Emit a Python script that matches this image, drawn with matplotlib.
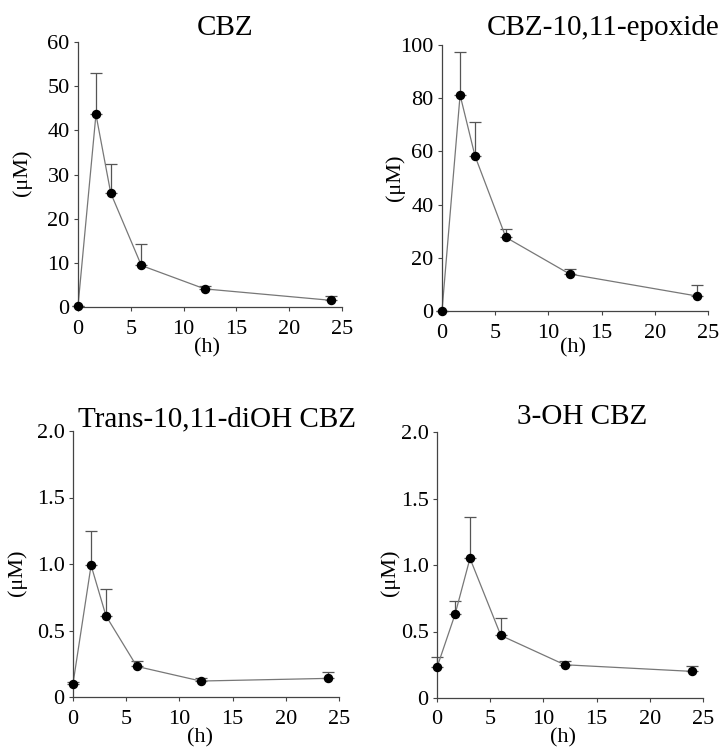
import matplotlib
matplotlib.use("Agg")
import matplotlib.pyplot as plt
import numpy as np

plt.rcParams['font.family'] = ['Liberation Serif', 'DejaVu Serif']

# Données (temps en heures, concentration en µM, erreur vers le haut)
temps = [0, 1.7, 3.1, 6, 12, 24]

cbz = [0.2, 43.6, 25.8, 9.4, 4.1, 1.5]
cbz_err = [0, 9.4, 6.5, 4.8, 0.6, 0.9]

epox = [0, 81.2, 58.3, 27.7, 13.9, 5.6]
epox_err = [0, 16.0, 12.9, 3.1, 1.8, 4.3]

diol = [0.10, 0.99, 0.61, 0.23, 0.12, 0.14]
diol_err = [0.01, 0.26, 0.20, 0.04, 0.02, 0.05]

oh3 = [0.23, 0.63, 1.05, 0.47, 0.25, 0.20]
oh3_err = [0.08, 0.10, 0.31, 0.13, 0.03, 0.04]

titres = ["CBZ", "CBZ-10,11-epoxide", "Trans-10,11-diOH CBZ", "3-OH CBZ"]

W, H = 720, 751
fig = plt.figure(figsize=(7.2, 7.51), dpi=100)

def ax_px(l, r, t, b):
    return fig.add_axes([l / W, 1 - b / H, (r - l) / W, (b - t) / H])

def panneau(ax, y, err, ymax, yticks, ylabels):
    ax.errorbar(temps, y, yerr=[np.zeros(len(err)), err], fmt="none",
                ecolor="#555555", elinewidth=0.9, capsize=4, capthick=0.9,
                clip_on=False)
    ax.plot(temps, y, color="#777777", lw=0.9, clip_on=False)
    ax.plot(temps, y, "o", color="black", ms=5.8, clip_on=False, zorder=5)
    ax.set_xlim(0, 25)
    ax.set_ylim(0, ymax)
    ax.set_xticks([0, 5, 10, 15, 20, 25])
    ax.set_yticks(yticks)
    ax.set_yticklabels(ylabels)
    for s in ["top", "right"]:
        ax.spines[s].set_visible(False)
    for s in ["left", "bottom"]:
        ax.spines[s].set_color("#444444")
        ax.spines[s].set_linewidth(0.9)
    ax.tick_params(direction="out", length=3, width=0.8, color="#444444",
                   labelsize=16, pad=3)
    ax.tick_params(axis="x", pad=6)

ax1 = ax_px(78, 342, 42, 307)
panneau(ax1, cbz, cbz_err, 60, [0, 10, 20, 30, 40, 50, 60],
        ["0", "10", "20", "30", "40", "50", "60"])
ax2 = ax_px(442, 708, 45, 311)
panneau(ax2, epox, epox_err, 100, [0, 20, 40, 60, 80, 100],
        ["0", "20", "40", "60", "80", "100"])
ax3 = ax_px(73, 339, 431, 697)
panneau(ax3, diol, diol_err, 2.0, [0, 0.5, 1.0, 1.5, 2.0],
        ["0", "0.5", "1.0", "1.5", "2.0"])
ax4 = ax_px(437, 703, 432, 698)
panneau(ax4, oh3, oh3_err, 2.0, [0, 0.5, 1.0, 1.5, 2.0],
        ["0", "0.5", "1.0", "1.5", "2.0"])

# titres
fig.text(225 / W, 1 - 28 / H, titres[0], ha="center", va="center", fontsize=21)
fig.text(487 / W, 1 - 28 / H, titres[1], ha="left", va="center", fontsize=21)
fig.text(217 / W, 1 - 419 / H, titres[2], ha="center", va="center", fontsize=21)
fig.text(582 / W, 1 - 417 / H, titres[3], ha="center", va="center", fontsize=21)

# étiquettes des axes
for x, y in [(207, 348), (573, 348), (200, 738), (563, 738)]:
    fig.text(x / W, 1 - y / H, "(h)", ha="center", va="center", fontsize=16)
for x, y in [(22, 173), (395, 178), (17, 573), (390, 573)]:
    fig.text(x / W, 1 - y / H, "(\u03bcM)", ha="center", va="center",
             fontsize=16, rotation=90)

fig.savefig("out.png", dpi=100)
